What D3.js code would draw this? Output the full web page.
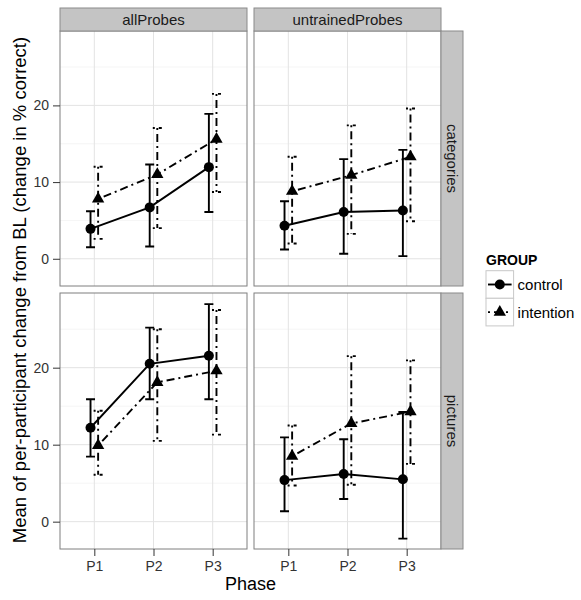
<!DOCTYPE html>
<html><head><meta charset="utf-8">
<script src="https://cdn.jsdelivr.net/npm/d3@7"></script>
<style>body{margin:0;background:#fff}</style>
</head><body><svg id="c" width="581" height="600"></svg>
<script>
const phases = ["P1", "P2", "P3"];
const probeTypes = ["allProbes", "untrainedProbes"];
const materials = ["categories", "pictures"];
const groups = ["control", "intention"];
const yTicks = [0, 10, 20];
const yMinorTicks = [5, 15, 25];

// allProbes / categories
const allCatControlMean = [3.9, 6.7, 11.95];
const allCatControlLo = [1.5, 1.6, 6.1];
const allCatControlHi = [6.2, 12.3, 18.9];
const allCatIntentionMean = [7.8, 11.0, 15.6];
const allCatIntentionLo = [2.6, 4.0, 8.7];
const allCatIntentionHi = [12.0, 17.05, 21.5];
// untrainedProbes / categories
const untCatControlMean = [4.3, 6.1, 6.3];
const untCatControlLo = [1.2, 0.65, 0.35];
const untCatControlHi = [7.5, 13.0, 14.2];
const untCatIntentionMean = [8.8, 10.9, 13.3];
const untCatIntentionLo = [2.0, 3.25, 4.9];
const untCatIntentionHi = [13.3, 17.4, 19.6];
// allProbes / pictures
const allPicControlMean = [12.2, 20.5, 21.55];
const allPicControlLo = [8.45, 15.9, 15.9];
const allPicControlHi = [15.9, 25.2, 28.25];
const allPicIntentionMean = [9.9, 18.1, 19.6];
const allPicIntentionLo = [6.1, 10.5, 11.3];
const allPicIntentionHi = [14.4, 25.0, 27.5];
// untrainedProbes / pictures
const untPicControlMean = [5.4, 6.2, 5.5];
const untPicControlLo = [1.35, 2.95, -2.2];
const untPicControlHi = [10.95, 10.7, 14.25];
const untPicIntentionMean = [8.5, 12.75, 14.3];
const untPicIntentionLo = [4.7, 4.8, 7.5];
const untPicIntentionHi = [12.5, 21.5, 20.95];

const panelData = [
  {probe: "allProbes", material: "categories",
   control: [allCatControlMean, allCatControlLo, allCatControlHi],
   intention: [allCatIntentionMean, allCatIntentionLo, allCatIntentionHi]},
  {probe: "untrainedProbes", material: "categories",
   control: [untCatControlMean, untCatControlLo, untCatControlHi],
   intention: [untCatIntentionMean, untCatIntentionLo, untCatIntentionHi]},
  {probe: "allProbes", material: "pictures",
   control: [allPicControlMean, allPicControlLo, allPicControlHi],
   intention: [allPicIntentionMean, allPicIntentionLo, allPicIntentionHi]},
  {probe: "untrainedProbes", material: "pictures",
   control: [untPicControlMean, untPicControlLo, untPicControlHi],
   intention: [untPicIntentionMean, untPicIntentionLo, untPicIntentionHi]}
];

const FONT = "'Liberation Sans', Arial, Helvetica, sans-serif";
const svg = d3.select("#c").style("font-family", FONT);
const colX = [60, 254], panelW = 187;
const rowY = [31, 293], panelH = [255, 256];
const stripTop = 8, stripRightW = 22;
const dodge = {control: -3.8, intention: 3.8};
const dashes = {control: null, intention: "2,4,8,4"};
const LW = 1.9;

const x = d3.scalePoint().domain(phases).range([0, panelW]).padding(0.58);

panelData.forEach(pd => {
  const ci = probeTypes.indexOf(pd.probe), ri = materials.indexOf(pd.material);
  const h = panelH[ri];
  const y = d3.scaleLinear().domain([-3.55, 29.7]).range([h, 0]);
  const g = svg.append("g").attr("transform", `translate(${colX[ci]},${rowY[ri]})`);
  g.append("rect").attr("width", panelW).attr("height", h).attr("fill", "#fff");
  g.selectAll(".mn").data(yMinorTicks).join("line")
    .attr("x1", 0).attr("x2", panelW).attr("y1", d => y(d)).attr("y2", d => y(d))
    .attr("stroke", "#f2f2f2").attr("stroke-width", 0.8);
  g.selectAll(".mj").data(yTicks).join("line")
    .attr("x1", 0).attr("x2", panelW).attr("y1", d => y(d)).attr("y2", d => y(d))
    .attr("stroke", "#e3e3e3").attr("stroke-width", 1);
  g.selectAll(".mx").data(phases).join("line")
    .attr("x1", d => x(d)).attr("x2", d => x(d)).attr("y1", 0).attr("y2", h)
    .attr("stroke", "#e3e3e3").attr("stroke-width", 1);

  groups.forEach(gr => {
    const [mean, lo, hi] = pd[gr];
    const pts = phases.map((p, i) => ({p, m: mean[i], lo: lo[i], hi: hi[i], cx: x(p) + dodge[gr]}));
    const eb = g.append("g").attr("stroke", "#000").attr("stroke-width", LW).attr("fill", "none");
    if (dashes[gr]) eb.attr("stroke-dasharray", dashes[gr]);
    pts.forEach(d => {
      eb.append("path").attr("d",
        `M${d.cx - 4.5},${y(d.hi)}H${d.cx + 4.5}M${d.cx},${y(d.hi)}V${y(d.lo)}M${d.cx - 4.5},${y(d.lo)}H${d.cx + 4.5}`);
    });
    const line = d3.line().x(d => d.cx).y(d => y(d.m));
    const lp = g.append("path").datum(pts).attr("d", line)
      .attr("fill", "none").attr("stroke", "#000").attr("stroke-width", LW);
    if (dashes[gr]) lp.attr("stroke-dasharray", dashes[gr]);
    if (gr === "control") {
      g.selectAll(null).data(pts).join("circle")
        .attr("cx", d => d.cx).attr("cy", d => y(d.m)).attr("r", 5).attr("fill", "#000");
    } else {
      g.selectAll(null).data(pts).join("path")
        .attr("d", d3.symbol(d3.symbolTriangle, 66))
        .attr("transform", d => `translate(${d.cx},${y(d.m)})`).attr("fill", "#000");
    }
  });

  g.append("rect").attr("width", panelW).attr("height", h)
    .attr("fill", "none").attr("stroke", "#7f7f7f").attr("stroke-width", 1);

  // left axis
  if (ci === 0) {
    const ax = g.append("g").call(d3.axisLeft(y).tickValues(yTicks).tickSize(7).tickPadding(4).tickFormat(d3.format("d")));
    ax.select(".domain").remove();
    ax.selectAll("line").attr("stroke", "#333").attr("stroke-width", 1);
    ax.selectAll("text").attr("font-size", 14).attr("fill", "#333").attr("font-family", FONT);
  }
  if (ri === 1) {
    const ax = g.append("g").attr("transform", `translate(0,${h})`)
      .call(d3.axisBottom(x).tickSize(7).tickPadding(5));
    ax.select(".domain").remove();
    ax.selectAll("line").attr("stroke", "#333").attr("stroke-width", 1);
    ax.selectAll("text").attr("font-size", 14).attr("fill", "#333").attr("font-family", FONT);
  }
});

// top strips
probeTypes.forEach((p, ci) => {
  svg.append("rect").attr("x", colX[ci]).attr("y", stripTop).attr("width", panelW).attr("height", rowY[0] - stripTop)
    .attr("fill", "#c4c4c4").attr("stroke", "#8a8a8a").attr("stroke-width", 1);
  svg.append("text").attr("x", colX[ci] + panelW / 2).attr("y", (stripTop + rowY[0]) / 2)
    .attr("text-anchor", "middle").attr("dominant-baseline", "central")
    .attr("font-size", 15).attr("fill", "#1a1a1a").text(p);
});
// right strips
materials.forEach((m, ri) => {
  const sx = colX[1] + panelW;
  svg.append("rect").attr("x", sx).attr("y", rowY[ri]).attr("width", stripRightW).attr("height", panelH[ri])
    .attr("fill", "#c4c4c4").attr("stroke", "#8a8a8a").attr("stroke-width", 1);
  svg.append("text").attr("transform", `translate(${sx + stripRightW / 2},${rowY[ri] + panelH[ri] / 2}) rotate(90)`)
    .attr("text-anchor", "middle").attr("dominant-baseline", "central")
    .attr("font-size", 15).attr("fill", "#1a1a1a").text(m);
});

// axis titles
svg.append("text").attr("x", colX[0] + (colX[1] + panelW - colX[0]) / 2).attr("y", 590)
  .attr("text-anchor", "middle").attr("font-size", 18).attr("fill", "#000").text("Phase");
svg.append("text").attr("transform", `translate(26,${(rowY[0] + rowY[1] + panelH[1]) / 2}) rotate(-90)`)
  .attr("text-anchor", "middle").attr("font-size", 18.5).attr("fill", "#000")
  .text("Mean of per-participant change from BL (change in % correct)");

// legend
const lx = 486, ly = 270.7, ks = 27.6;
svg.append("text").attr("x", lx).attr("y", 265).attr("font-size", 14).attr("font-weight", "bold").text("GROUP");
groups.forEach((gr, i) => {
  const ky = ly + i * ks;
  svg.append("rect").attr("x", lx).attr("y", ky).attr("width", ks).attr("height", ks)
    .attr("fill", "#fff").attr("stroke", "#c8c8c8").attr("stroke-width", 1);
  const ln = svg.append("line").attr("x1", lx + 2).attr("x2", lx + ks - 2).attr("y1", ky + ks / 2).attr("y2", ky + ks / 2)
    .attr("stroke", "#000").attr("stroke-width", LW);
  if (dashes[gr]) ln.attr("stroke-dasharray", dashes[gr]);
  if (gr === "control") {
    svg.append("circle").attr("cx", lx + ks / 2).attr("cy", ky + ks / 2).attr("r", 5).attr("fill", "#000");
  } else {
    svg.append("path").attr("d", d3.symbol(d3.symbolTriangle, 66))
      .attr("transform", `translate(${lx + ks / 2},${ky + ks / 2})`).attr("fill", "#000");
  }
  svg.append("text").attr("x", lx + ks + 4).attr("y", ky + ks / 2).attr("dominant-baseline", "central")
    .attr("font-size", 15).attr("fill", "#000").text(gr);
});
</script>
</body></html>
